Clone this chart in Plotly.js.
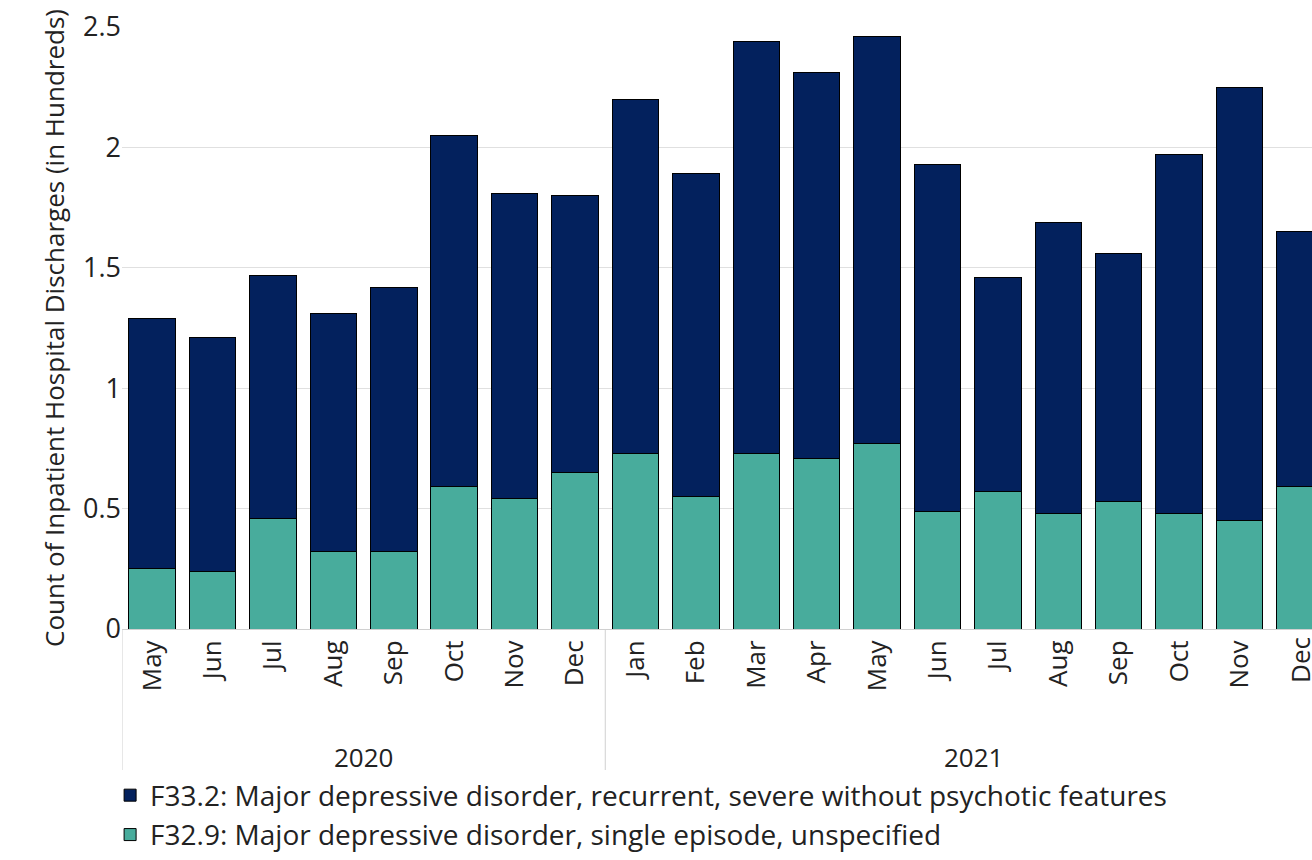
<!DOCTYPE html>
<html>
<head>
<meta charset="utf-8">
<script src="https://cdn.plot.ly/plotly-3.0.1.min.js"></script>
<style>body{margin:0}#grafico{width:1312px;height:860px}</style>
</head>
<body>
<div id="grafico"></div>
<script>
const years = ['2020','2020','2020','2020','2020','2020','2020','2020',
	'2021','2021','2021','2021','2021','2021','2021','2021','2021','2021','2021','2021'];
const months = ['May','Jun','Jul','Aug','Sep','Oct','Nov','Dec',
	'Jan','Feb','Mar','Apr','May','Jun','Jul','Aug','Sep','Oct','Nov','Dec'];
const totals = [1.29,1.21,1.47,1.31,1.42,2.05,1.81,1.80,2.20,1.89,2.44,2.31,2.46,1.93,1.46,1.69,1.56,1.97,2.25,1.65];
const singleEpisode = [0.25,0.24,0.46,0.32,0.32,0.59,0.54,0.65,0.73,0.55,0.73,0.71,0.77,0.49,0.57,0.48,0.53,0.48,0.45,0.59];
const recurrent = totals.map((t, i) => +(t - singleEpisode[i]).toFixed(2));

const idx = months.map((m, i) => i);
const last = idx.length - 1;
const font = '"Open Sans", sans-serif';
const line = {color: '#000', width: 1};

// year groups: first/last index of each year
const groups = [];
years.forEach((y, i) => {
	const g = groups[groups.length - 1];
	if (g && g.year === y) g.end = i; else groups.push({year: y, start: i, end: i});
});

const annotations = groups.map(g => ({
	x: (g.end === last ? g.start + 5.6 : (g.start + g.end) / 2), xref: 'x', y: -0.213, yref: 'paper',
	text: g.year, showarrow: false, font: {size: 26}, yanchor: 'middle'
}));
// last month label sits partly outside the visible range, as in the cut-off original
annotations.push({
	x: last, xref: 'x', y: 0, yref: 'paper', yshift: -6, text: months[last], textangle: -90,
	showarrow: false, xanchor: 'center', yanchor: 'top', font: {size: 26}
});
const shapes = groups.map(g => ({
	type: 'line', xref: 'x', yref: 'paper', x0: g.start - 0.5, x1: g.start - 0.5, y0: 0, y1: -0.24,
	line: {color: '#d0d0d0', width: 1}
}));

const data = [
	{
		x: idx, y: singleEpisode, type: 'bar',
		name: 'F32.9: Major depressive disorder, single episode, unspecified',
		marker: {color: '#48AC9C', line: line}
	},
	{
		x: idx, y: recurrent, type: 'bar',
		name: 'F33.2: Major depressive disorder, recurrent, severe without psychotic features',
		marker: {color: '#03215D', line: line}
	}
];

const layout = {
	width: 1312, height: 860,
	margin: {l: 122, r: 0, t: 27, b: 211},
	barmode: 'stack', bargap: 0.23,
	font: {family: font, size: 26, color: '#222'},
	plot_bgcolor: '#fff', paper_bgcolor: '#fff',
	xaxis: {
		range: [-0.5, 19.2], tickmode: 'array', tickvals: idx, ticktext: months,
		tickangle: -90, showline: true, linecolor: '#d0d0d0', showgrid: false, zeroline: false,
		tickfont: {size: 26}
	},
	yaxis: {
		range: [0, 2.5], dtick: 0.5, gridcolor: '#e0e0e0', zeroline: false,
		title: {text: 'Count of Inpatient Hospital Discharges (in Hundreds)', font: {size: 26}, standoff: 10},
		tickfont: {size: 27}
	},
	annotations: annotations,
	shapes: shapes,
	legend: {
		x: -0.01, y: -0.235, xanchor: 'left', yanchor: 'top', traceorder: 'reversed',
		font: {size: 28}, tracegroupgap: 0
	},
	showlegend: true
};

Plotly.newPlot('grafico', data, layout, {displayModeBar: false});
</script>
</body>
</html>
